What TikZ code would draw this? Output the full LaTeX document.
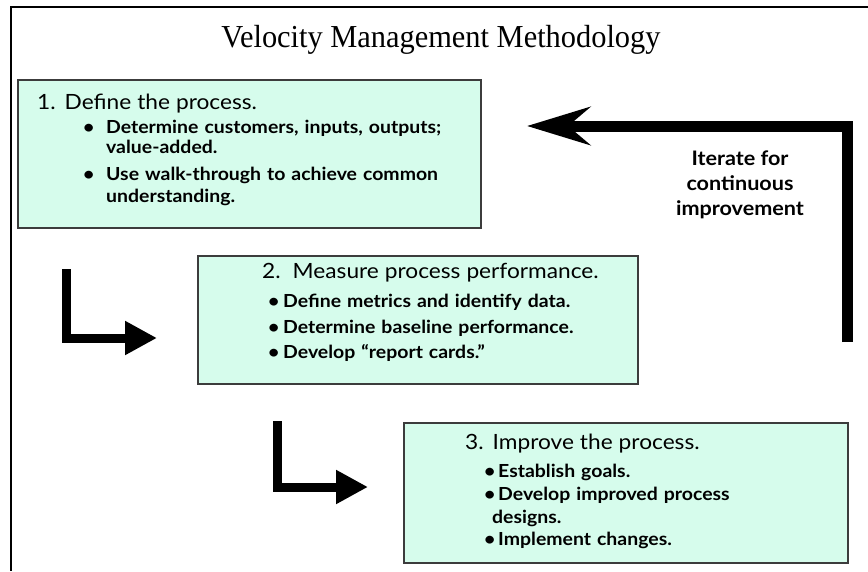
\documentclass[tikz,border=0pt]{standalone}
\usepackage{fontspec}
\usetikzlibrary{arrows.meta}

\newfontfamily\boxfont[FakeStretch=1.08]{Lato}
\newfontfamily\headfont[FakeStretch=0.95]{Liberation Serif}
\definecolor{mint}{RGB}{214,252,236}
\definecolor{rim}{RGB}{60,60,60}
\newcommand{\dotitem}[1]{\makebox[#1][l]{\textbullet}}
\newcommand{\stephead}{\mdseries\fontsize{21}{24}\selectfont}

\begin{document}
\begin{tikzpicture}[
        x = 1pt, y = -1pt, % one unit per pixel, y runs down
        line join = miter,
        stepbox/.style = {draw = rim, line width = 1.5pt, fill = mint,
            anchor = north west, inner sep = 0pt},
        boxtext/.style = {anchor = base west, inner sep = 0pt,
            text width = 430pt, align = left,
            font = \boxfont\bfseries\fontsize{18}{20}\selectfont},
        turn/.style = {line width = 9pt, -{Triangle[length=32pt, width=32pt]}},
        loopback/.style = {line width = 11pt,
            -{Stealth[length=63pt, width=38pt, inset=22pt]}}
    ]

    \useasboundingbox (0,0) rectangle (868,571);

    % frame and heading
    \draw[line width = 2.5pt] (868,7) -- (11,7) -- (11,571);
    \node[font = \headfont\fontsize{32}{36}\selectfont] (title) at (441,40)
        {Velocity Management Methodology};

    % the three steps
    \node[stepbox, minimum width = 463pt, minimum height = 148pt] (define) at (17,79) {};
    \node[stepbox, minimum width = 440pt, minimum height = 128pt] (measure) at (197,255) {};
    \node[stepbox, minimum width = 444pt, minimum height = 140pt] (improve) at (403,422) {};

    \node[boxtext] (definetxt) at ([shift={(20,30)}]define.north west) {%
        {\stephead 1. Define the process.}\\[4pt]
        \hspace*{46pt}\dotitem{23pt}Determine customers, inputs, outputs;\\
        \hspace*{69pt}value-added.\\[7pt]
        \hspace*{46pt}\dotitem{23pt}Use walk-through to achieve common\\[2pt]
        \hspace*{69pt}understanding.};

    \node[boxtext] (measuretxt) at ([shift={(65,23)}]measure.north west) {%
        {\stephead 2.\hspace{12pt}Measure process performance.}\\[9pt]
        \hspace*{6pt}\dotitem{15pt}Define metrics and identify data.\\[6pt]
        \hspace*{6pt}\dotitem{15pt}Determine baseline performance.\\[5pt]
        \hspace*{6pt}\dotitem{15pt}Develop “report cards.”};

    \node[boxtext] (improvetxt) at ([shift={(62,27)}]improve.north west) {%
        {\stephead 3. Improve the process.}\\[8pt]
        \hspace*{19pt}\dotitem{14pt}Establish goals.\\[3pt]
        \hspace*{19pt}\dotitem{14pt}Develop improved process\\[3pt]
        \hspace*{27pt}designs.\\[2pt]
        \hspace*{19pt}\dotitem{14pt}Implement changes.};

    % step arrows
    \coordinate (turnA) at (66,269);
    \coordinate (turnAtip) at (157,338);
    \coordinate (turnB) at (277.5,421);
    \coordinate (turnBtip) at (368,487);
    \draw[turn] (turnA) |- (turnAtip);
    \draw[turn] (turnB) |- (turnBtip);

    % iterate back to step 1
    \coordinate (loopfoot) at (847.5,342);
    \coordinate (looptip) at (527,126);
    \draw[loopback] (loopfoot) |- (looptip);
    \node[align = center, font = \boxfont\bfseries\fontsize{20}{25}\selectfont]
        (iterate) at (740,185) {Iterate for\\continuous\\improvement};

\end{tikzpicture}
\end{document}
